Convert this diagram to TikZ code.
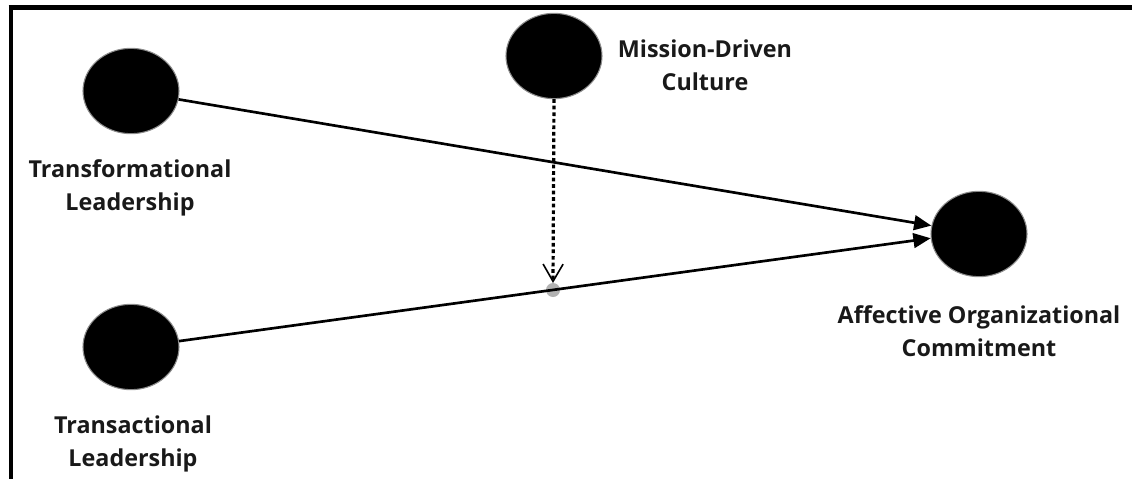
\documentclass[tikz,border=0pt]{standalone}
\usepackage{fontspec}
\setmainfont{Open Sans}
\usetikzlibrary{arrows.meta,shapes.geometric}
\begin{document}
\begin{tikzpicture}[x=0.75pt,y=-0.75pt,
  latent/.style={ellipse, fill=black, draw=black!45, line width=0.8pt, minimum width=72pt, minimum height=64pt, inner sep=0pt},
  lbl/.style={align=center, font=\bfseries\fontsize{17.5}{25}\selectfont, text=black!90},
  path/.style={line width=2pt, -{Triangle[length=13pt,width=11pt]}},
  modpath/.style={line width=2.4pt, dash pattern=on 2.8pt off 2.1pt, -{Straight Barb[length=13pt,width=15pt,line width=1.2pt]}},
  frame/.style={line width=3.6pt}]
\useasboundingbox (0,0) rectangle (1132,479);
\draw[frame] (8.5,7.5) -- (1132,7.5);
\draw[frame] (11,5) -- (11,479);
\node[latent] (tf) at (131,91) {};
\node[latent] (tr) at (131,347) {};
\node[latent] (mdc) at (554,56) {};
\node[latent] (aoc) at (979,234) {};
\node[lbl] (tfl) at (130,188) {Transformational\\Leadership};
\node[lbl] (trl) at (133,444) {Transactional\\Leadership};
\node[lbl] (mdcl) at (705,65) {Mission-Driven\\Culture};
\node[lbl] (aocl) at (979,331) {Affective Organizational\\Commitment};
\node[circle, fill=black!30, minimum size=10.5pt, inner sep=0pt] (dot) at (553,290) {};
\coordinate (modend) at (553,283);
\draw[path] (tf.350) -- (aoc.170);
\draw[path] (tr.7) -- (aoc.185);
\draw[modpath] (mdc.south) -- (modend);
\end{tikzpicture}
\end{document}
